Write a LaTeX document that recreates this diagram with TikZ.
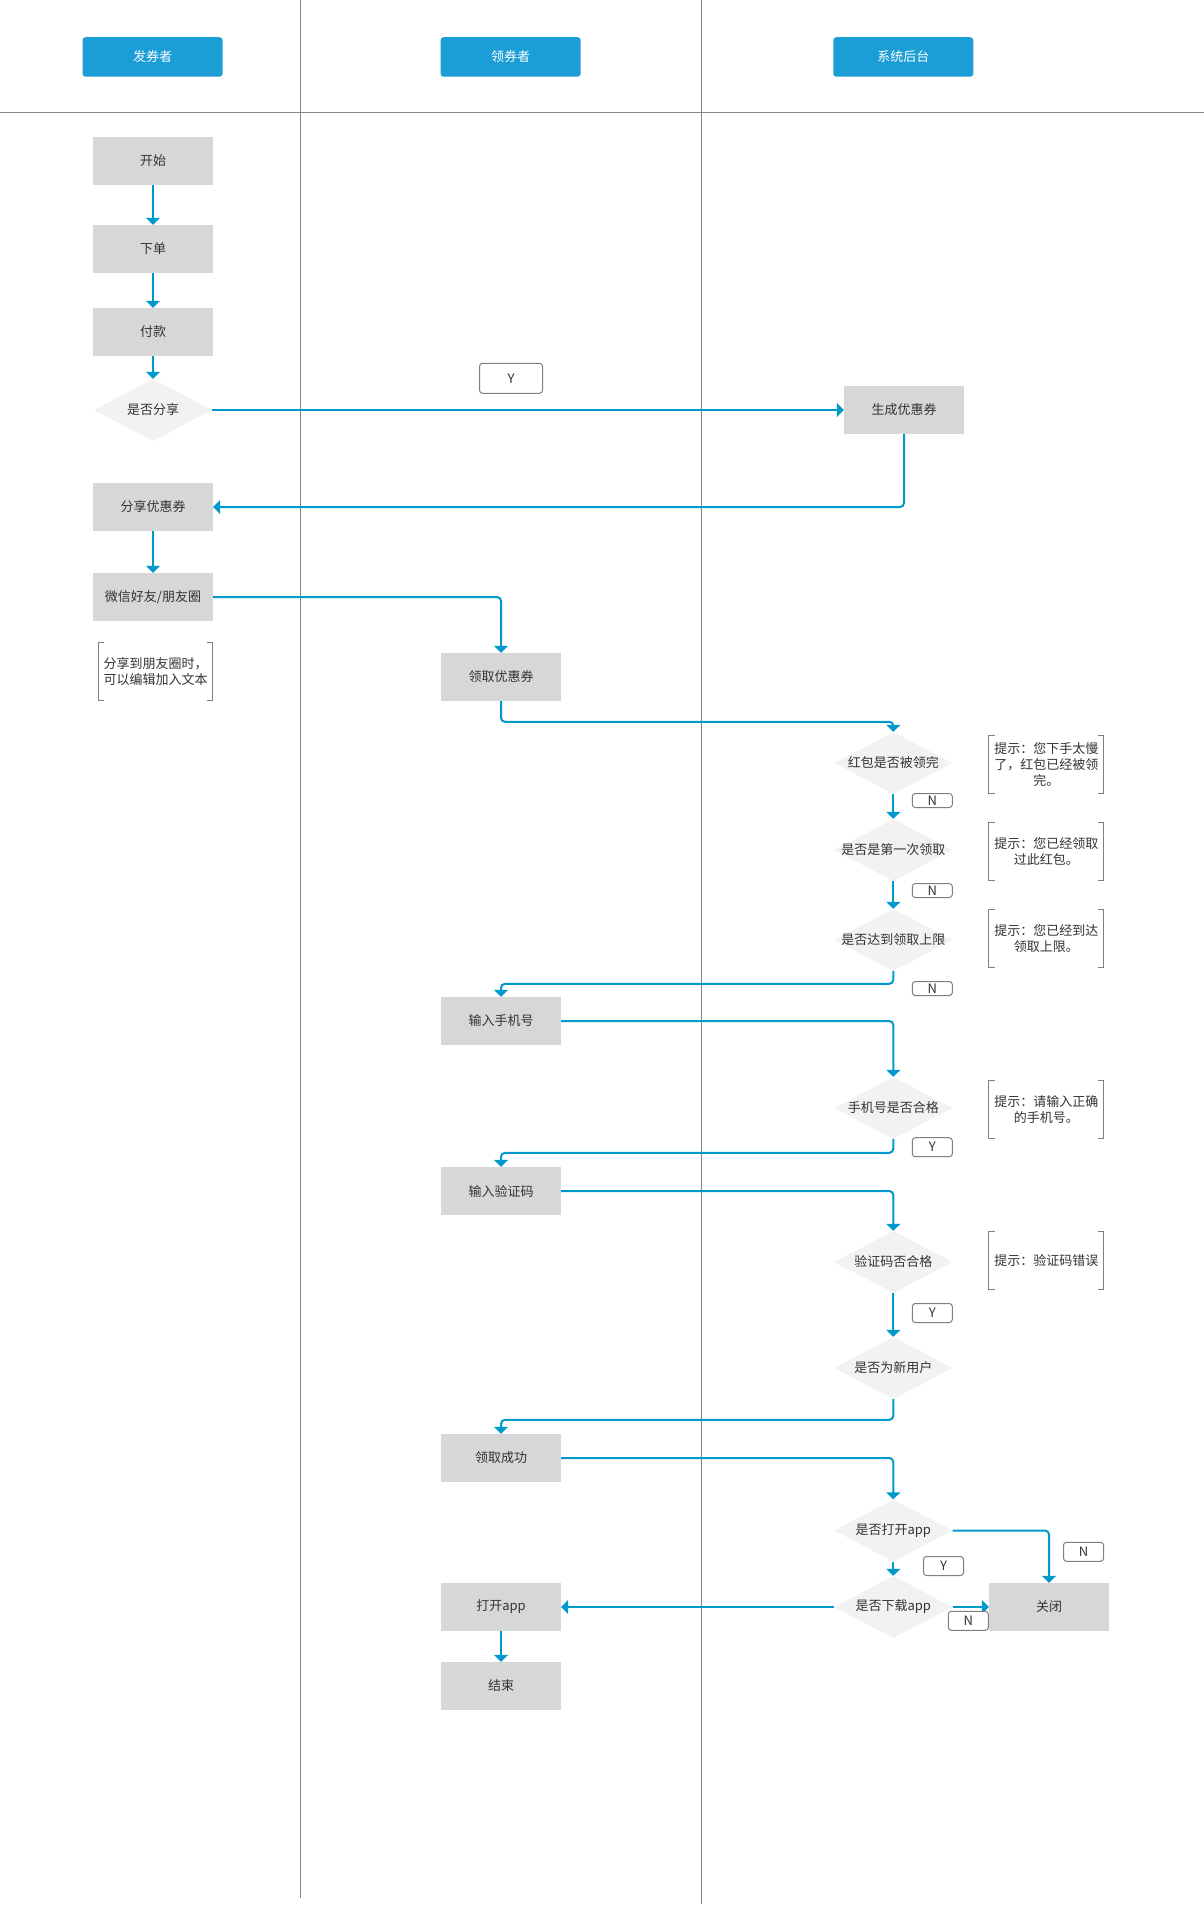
\documentclass[tikz,border=0pt]{standalone}
\usepackage{fontspec}
\setmainfont{Noto Sans CJK SC}
\usetikzlibrary{shapes.geometric,arrows.meta}
\definecolor{ln}{HTML}{0099CC}
\definecolor{hb}{HTML}{1B9DD6}
\definecolor{gb}{HTML}{D7D7D7}
\definecolor{df}{HTML}{F2F2F2}
\definecolor{tg}{HTML}{7F7F7F}
\definecolor{lg}{HTML}{858585}
\definecolor{txt}{HTML}{333333}
\newcommand\myfs{\fontsize{13pt}{16pt}\selectfont}
\begin{document}
\begin{tikzpicture}[x=1pt,y=-1pt,
  every node/.style={font=\myfs, text=txt},
  hdr/.style={fill=hb, rounded corners=3pt, minimum width=140pt, minimum height=39.5pt, text=white, inner sep=0pt},
  box/.style={fill=gb, minimum width=120pt, minimum height=48pt, inner sep=0pt},
  dia/.style={diamond, fill=df, minimum width=118pt, minimum height=62pt, inner sep=0pt},
  tag/.style={draw=tg, fill=white, rounded corners=3pt, line width=1pt, minimum width=40pt, minimum height=19pt, inner sep=0pt},
  smalltag/.style={tag, minimum height=14pt},
  note/.style={align=center, inner sep=0pt, minimum width=114.7pt, minimum height=57.7pt},
  brk/.style={draw=tg, line width=1pt},
  flow/.style={draw=ln, line width=2pt, rounded corners=4pt, -{Triangle[width=14pt,length=7pt]}},
  lane/.style={draw=lg, line width=1pt}]
\fill[white] (0,0) rectangle (1204,1905);
\useasboundingbox (0,0) rectangle (1204,1905);
% lanes
\coordinate (l1t) at (300.2,0); \coordinate (l1b) at (300.2,1897.7);
\coordinate (l2t) at (701,0); \coordinate (l2b) at (701,1904);
\coordinate (hl) at (0,112.3); \coordinate (hr) at (1204,112.3);
\draw[lane] (l1t) -- (l1b);
\draw[lane] (l2t) -- (l2b);
\draw[lane, line width=1.3pt] (hl) -- (hr);
% headers
\node[hdr] (h1) at (152.5,57) {发券者};
\node[hdr] (h2) at (510.6,57) {领券者};
\node[hdr] (h3) at (903.3,57) {系统后台};
% left lane
\node[box] (start) at (153,161) {开始};
\node[box] (order) at (153,249) {下单};
\node[box] (pay) at (153,332) {付款};
\node[dia, label={center:是否分享}] (share) at (153,410) {};
\node[box] (sharec) at (153,507) {分享优惠券};
\node[box] (wx) at (153,597) {微信好友/朋友圈};
\node[note, minimum width=114.4pt] (n0) at (155.5,671.2) {分享到朋友圈时，\\可以编辑加入文本};
% middle lane
\node[box] (get) at (501,677) {领取优惠券};
\node[box] (phone) at (501,1021) {输入手机号};
\node[box] (code) at (501,1191) {输入验证码};
\node[box] (succ) at (501,1458) {领取成功};
\node[box] (open) at (501,1607) {打开app};
\node[box] (end) at (501,1686) {结束};
% right lane
\node[box] (gen) at (904,410) {生成优惠券};
\node[dia, label={center:红包是否被领完}] (d1) at (893.3,763) {};
\node[dia, label={center:是否是第一次领取}] (d2) at (893.3,850) {};
\node[dia, label={center:是否达到领取上限}] (d3) at (893.3,940) {};
\node[dia, label={center:手机号是否合格}] (d4) at (893.3,1108) {};
\node[dia, label={center:验证码否合格}] (d5) at (893.3,1262) {};
\node[dia, label={center:是否为新用户}] (d6) at (893.3,1368) {};
\node[dia, label={center:是否打开app}] (d7) at (893.3,1530.5) {};
\node[dia, label={center:是否下载app}] (d8) at (893.3,1607) {};
\node[box] (close) at (1049,1607) {关闭};
% notes
\node[note] (n1) at (1046.3,764.2) {提示：您下手太慢\\了，红包已经被领\\完。};
\node[note] (n2) at (1046.3,851.3) {提示：您已经领取\\过此红包。};
\node[note] (n3) at (1046.3,938.3) {提示：您已经到达\\领取上限。};
\node[note] (n4) at (1046.3,1109.3) {提示：请输入正确\\的手机号。};
\node[note] (n5) at (1046.3,1260.3) {提示：验证码错误};
\foreach \n in {n0,n1,n2,n3,n4,n5}{
  \draw[brk] ([xshift=6pt]\n.north west) -- (\n.north west) -- (\n.south west) -- ([xshift=6pt]\n.south west);
  \draw[brk] ([xshift=-6pt]\n.north east) -- (\n.north east) -- (\n.south east) -- ([xshift=-6pt]\n.south east);
}
% connectors
\draw[flow] (start) -- (order);
\draw[flow] (order) -- (pay);
\draw[flow] (pay) -- (share);
\draw[flow] (share.east) -- (gen.west);
\draw[flow] (gen.south) |- (sharec.east);
\draw[flow] (sharec) -- (wx);
\draw[flow] (wx.east) -| (get.north);
\draw[flow] (get.south) |- ([yshift=10pt]d1.north) -- (d1.north);
\draw[flow] (d1.south) -- (d2.north);
\draw[flow] (d2.south) -- (d3.north);
\draw[flow] (d3.south) |- ([yshift=13pt]phone.north) -- (phone.north);
\draw[flow] (phone.east) -| (d4.north);
\draw[flow] (d4.south) |- ([yshift=14pt]code.north) -- (code.north);
\draw[flow] (code.east) -| (d5.north);
\draw[flow] (d5.south) -- (d6.north);
\draw[flow] (d6.south) |- ([yshift=14pt]succ.north) -- (succ.north);
\draw[flow] (succ.east) -| (d7.north);
\draw[flow] (d7.east) -| (close.north);
\draw[flow] (d7.south) -- (d8.north);
\draw[flow] (d8.east) -- (close.west);
\draw[flow] (d8.west) -- (open.east);
\draw[flow] (open) -- (end);
% Y / N tags
\node[tag, minimum width=63pt, minimum height=30pt] (ty0) at (511,378.3) {Y};
\node[smalltag] (tn1) at (932.3,800.5) {N};
\node[smalltag] (tn2) at (932.3,890.5) {N};
\node[smalltag] (tn3) at (932.3,988.5) {N};
\node[tag] (ty4) at (932.3,1147.2) {Y};
\node[tag] (ty5) at (932.3,1313) {Y};
\node[tag] (tn7) at (1083.5,1551.8) {N};
\node[tag] (ty7) at (943.5,1566) {Y};
\node[tag] (tn8) at (968.3,1620.8) {N};
\end{tikzpicture}
\end{document}
